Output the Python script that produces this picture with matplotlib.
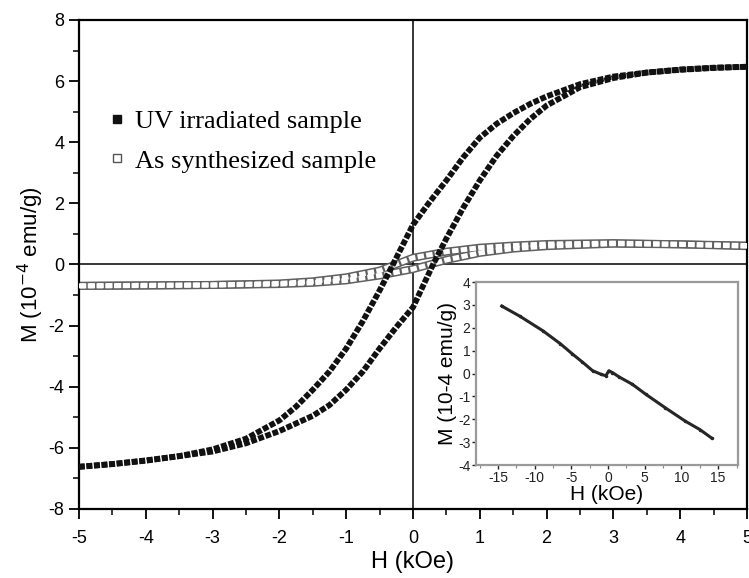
import numpy as np
import matplotlib
matplotlib.use('Agg')
import matplotlib.pyplot as plt
from matplotlib.lines import Line2D

# UV irradiated sample, field sweep 5 -> -5 kOe (upper branch)
uvDownH = [5.0, 4.5, 4.0, 3.5, 3.0, 2.5, 2.0, 1.75, 1.5, 1.25, 1.0, 0.75, 0.5, 0.25, 0.0,
           -0.15, -0.3, -0.5, -0.75, -1.0, -1.25, -1.5, -1.75, -2.0, -2.5, -3.0, -3.5, -4.0, -4.5, -5.0]
uvDownM = [6.47, 6.43, 6.37, 6.28, 6.15, 5.9, 5.5, 5.25, 4.95, 4.6, 4.15, 3.5, 2.75, 2.05, 1.3,
           0.65, 0.0, -0.85, -1.85, -2.75, -3.5, -4.1, -4.65, -5.1, -5.7, -6.05, -6.27, -6.42, -6.53, -6.62]
# UV irradiated sample, field sweep -5 -> 5 kOe (lower branch)
uvUpH = [-5.0, -4.5, -4.0, -3.5, -3.0, -2.5, -2.0, -1.75, -1.5, -1.25, -1.0, -0.75, -0.5, -0.25, 0.0,
         0.15, 0.3, 0.5, 0.75, 1.0, 1.25, 1.5, 1.75, 2.0, 2.5, 3.0, 3.5, 4.0, 4.5, 5.0]
uvUpM = [-6.62, -6.53, -6.41, -6.27, -6.12, -5.85, -5.45, -5.2, -4.95, -4.6, -4.1, -3.5, -2.75, -2.05, -1.4,
         -0.7, 0.0, 0.85, 1.85, 2.75, 3.55, 4.2, 4.75, 5.2, 5.8, 6.1, 6.28, 6.38, 6.44, 6.47]

# As synthesized sample
asDownH = [5.0, 4.0, 3.0, 2.0, 1.5, 1.0, 0.5, 0.0, -0.5, -1.0, -1.5, -2.0, -3.0, -4.0, -5.0]
asDownM = [0.6, 0.66, 0.7, 0.67, 0.62, 0.55, 0.42, 0.22, -0.2, -0.42, -0.55, -0.62, -0.67, -0.68, -0.7]
asUpH = [-5.0, -4.0, -3.0, -2.0, -1.5, -1.0, -0.5, 0.0, 0.5, 1.0, 1.5, 2.0, 3.0, 4.0, 5.0]
asUpM = [-0.7, -0.69, -0.67, -0.64, -0.6, -0.52, -0.36, -0.15, 0.15, 0.38, 0.52, 0.6, 0.68, 0.66, 0.62]

# inset: as synthesized sample over the full field range
insetH = [-14.5, -12.0, -8.9, -6.5, -4.85, -3.5, -2.1, -1.0, -0.3, 0.1, 0.6, 1.5, 3.3, 5.1, 7.8, 10.5, 12.5, 14.1]
insetM = [2.95, 2.5, 1.87, 1.3, 0.85, 0.5, 0.12, -0.03, -0.1, 0.12, 0.04, -0.15, -0.47, -0.9, -1.5, -2.08, -2.45, -2.82]

tickFont = 'Liberation Sans'
plt.rcParams['axes.unicode_minus'] = False

fig = plt.figure(figsize=(7.49, 5.78), dpi=100)
ax = fig.add_axes([0.1055, 0.1194, 0.8918, 0.846])
ax.set_xlim(-5, 5)
ax.set_ylim(-8, 8)

ax.axhline(0, color='black', lw=1.1, zorder=1)
ax.axvline(0, color='black', lw=1.1, zorder=1)

# as synthesized: open squares drawn as a hatched band
for h, m in ((asDownH, asDownM), (asUpH, asUpM)):
	ax.plot(h, m, color='#606060', lw=5.8, solid_capstyle='butt', zorder=2)
	ax.plot(h, m, color='white', lw=3.6, linestyle=(0, (1.3, 0.45)),
			dash_capstyle='butt', zorder=3)

# UV irradiated: filled squares drawn as a chain of squares
for h, m in ((uvDownH, uvDownM), (uvUpH, uvUpM)):
	ax.plot(h, m, color='#111111', lw=4.2, linestyle=(0, (1, 0.3)),
			dash_capstyle='butt', zorder=4)

ax.set_xticks(np.arange(-5, 6, 1))
ax.set_yticks(np.arange(-8, 9, 2))
ax.set_xticks(np.arange(-4.5, 5, 1), minor=True)
ax.set_yticks(np.arange(-7, 8, 2), minor=True)
ax.tick_params(which='major', direction='out', length=7, width=1.3, labelsize=13)
ax.tick_params(axis='x', which='major', pad=8)
ax.tick_params(which='minor', direction='out', length=4, width=1.1)
ax.tick_params(top=False, right=False)
for lab in ax.get_xticklabels() + ax.get_yticklabels():
	lab.set_fontfamily(tickFont)
for sp in ax.spines.values():
	sp.set_linewidth(1.6)

ax.set_xlabel('H (kOe)', fontsize=17, family=tickFont, labelpad=3)
ax.set_ylabel('M (10$^{-4}$ emu/g)', fontsize=16, family=tickFont, labelpad=2)

handles = [Line2D([], [], ls='none', marker='s', ms=5.5, mfc='#111111', mec='#111111'),
		   Line2D([], [], ls='none', marker='s', ms=6, mfc='white', mec='#555555')]
ax.legend(handles, ['UV irradiated sample', 'As synthesized sample'],
		  loc='upper left', bbox_to_anchor=(0.005, 0.865), frameon=False,
		  prop={'family': 'Liberation Serif', 'size': 19}, handletextpad=0.3,
		  handlelength=0.8, labelspacing=0.6)

# inset
ins = fig.add_axes([0.6355, 0.1955, 0.3498, 0.3166])
ins.plot(insetH, insetM, color='#262626', lw=2.2, marker='.', ms=3)
ins.set_xlim(-18, 17.7)
ins.set_ylim(-4, 4)
ins.set_xticks(np.arange(-15, 16, 5))
ins.set_yticks(np.arange(-4, 5, 1))
ins.set_xticks(np.arange(-17.5, 18, 2.5), minor=True)
ins.tick_params(which='major', direction='out', length=3, width=1, labelsize=10,
				colors='#222222', pad=1)
ins.tick_params(which='minor', direction='out', length=2, width=0.8, colors='#888888')
for lab in ins.get_xticklabels() + ins.get_yticklabels():
	lab.set_fontfamily(tickFont)
for sp in ins.spines.values():
	sp.set_color('#9a9a9a')
	sp.set_linewidth(1.6)
ins.set_xlabel('H (kOe)', fontsize=15, family=tickFont, labelpad=0)
ins.set_ylabel('M (10-4 emu/g)', fontsize=15, family=tickFont, labelpad=1)

fig.savefig('out.png', dpi=100)
